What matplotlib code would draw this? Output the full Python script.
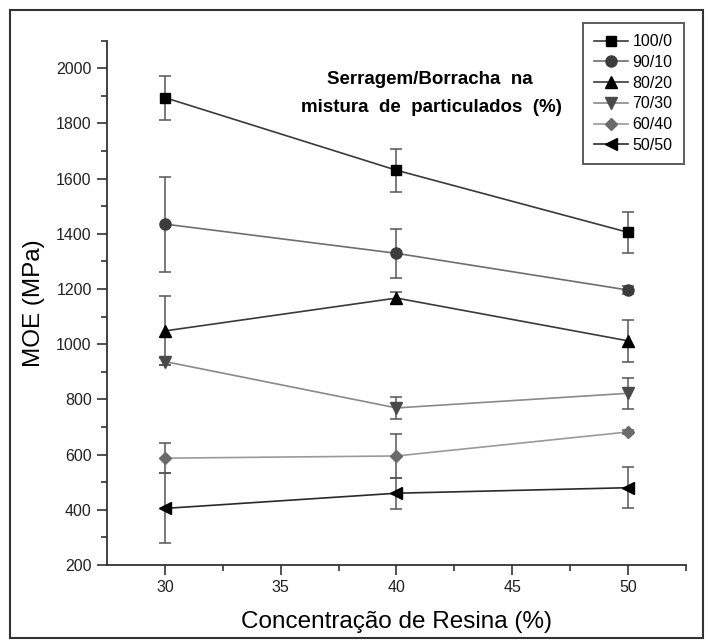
import numpy as np
import matplotlib
matplotlib.use("Agg")
import matplotlib.pyplot as plt
from matplotlib.lines import Line2D
from matplotlib.patches import Rectangle

plt.rcParams['font.family'] = ['Liberation Sans', 'DejaVu Sans']

# resin concentration (%)
resina = [30, 40, 50]

# sawdust/rubber ratio in the particle mix
labels = ["100/0", "90/10", "80/20", "70/30", "60/40", "50/50"]

# MOE means (MPa) and their error bars
moe_100_0 = [1893, 1630, 1405]
moe_90_10 = [1435, 1329, 1196]
moe_80_20 = [1048, 1167, 1012]
moe_70_30 = [937, 769, 822]
moe_60_40 = [587, 595, 682]
moe_50_50 = [405, 460, 480]

err_100_0 = [80, 77, 75]
err_90_10 = [172, 88, 14]
err_80_20 = [125, 22, 75]
err_70_30 = [12, 40, 57]
err_60_40 = [55, 80, 8]
err_50_50 = [127, 56, 75]

###########################################################
#                     Styles                              #
###########################################################
styles = [
    # marker, marker colour, line colour
    ('s', '#000000', '#3a3a3a'),
    ('o', '#3c3c3c', '#6e6e6e'),
    ('^', '#000000', '#3a3a3a'),
    ('v', '#4a4a4a', '#8a8a8a'),
    ('D', '#6a6a6a', '#9a9a9a'),
    ('<', '#000000', '#2a2a2a'),
]
msizes = [7, 8, 8, 8, 6.5, 8]

means = [moe_100_0, moe_90_10, moe_80_20, moe_70_30, moe_60_40, moe_50_50]
errs = [err_100_0, err_90_10, err_80_20, err_70_30, err_60_40, err_50_50]

W, H = 708, 643
fig = plt.figure(figsize=(W / 100, H / 100), dpi=100)
ax = fig.add_axes([107 / W, 1 - 565 / H, (686 - 107) / W, (565 - 40.5) / H])

handles = []
for i in range(len(labels)):
    m, mc, lc = styles[i]
    ax.errorbar(resina, means[i], yerr=errs[i], color=lc, ecolor='#555555',
                elinewidth=1.1, capsize=4, capthick=1.1, linewidth=1.2,
                marker=m, markersize=msizes[i], markerfacecolor=mc,
                markeredgecolor=mc, zorder=3)
    # legend entry: line and marker only, no error bar
    handles.append(Line2D([0], [0], color=lc, linewidth=1.2, marker=m,
                          markersize=msizes[i], markerfacecolor=mc,
                          markeredgecolor=mc))

ax.set_xlim(27.5, 52.5)
ax.set_ylim(200, 2100)
ax.set_xticks([30, 35, 40, 45, 50])
ax.set_xticks([32.5, 37.5, 42.5, 47.5, 52.5], minor=True)
ax.set_yticks(np.arange(200, 2001, 200))
ax.set_yticks(np.arange(300, 2101, 200), minor=True)

for s in ['top', 'right']:
    ax.spines[s].set_visible(False)
for s in ['left', 'bottom']:
    ax.spines[s].set_color('#333333')
    ax.spines[s].set_linewidth(1.3)

ax.tick_params(which='major', direction='out', length=7, width=1.2,
               color='#333333', labelsize=11.5, labelcolor='#222222', pad=4)
ax.tick_params(which='minor', direction='out', length=4, width=1.2, color='#333333')

ax.set_xlabel("Concentração de Resina (%)", fontsize=17.5, labelpad=11)
ax.set_ylabel("MOE (MPa)", fontsize=17.5, labelpad=8)

# legend title written as two lines of bold text inside the plot
fig.text(430 / W, 1 - 80 / H, "Serragem/Borracha  na", ha='center', va='center',
         fontsize=13.5, fontweight='bold')
fig.text(431 / W, 1 - 107 / H, "mistura  de  particulados  (%)", ha='center',
         va='center', fontsize=13.5, fontweight='bold')

leg = ax.legend(handles, labels, loc='upper left',
                bbox_to_anchor=(583 / W, 1 - 23 / H),
                bbox_transform=fig.transFigure, fontsize=11.5, frameon=True,
                fancybox=False, edgecolor='#333333', handlelength=2.1,
                handletextpad=0.3, labelspacing=0.36, borderpad=0.7,
                borderaxespad=0)
leg.get_frame().set_linewidth(1.4)

# outer frame round the whole picture
fig.patches.append(Rectangle((10 / W, 5 / H), 693 / W, 628 / H,
                             transform=fig.transFigure, fill=False,
                             edgecolor='#333333', linewidth=1.5))

fig.savefig("out.png", dpi=100)
